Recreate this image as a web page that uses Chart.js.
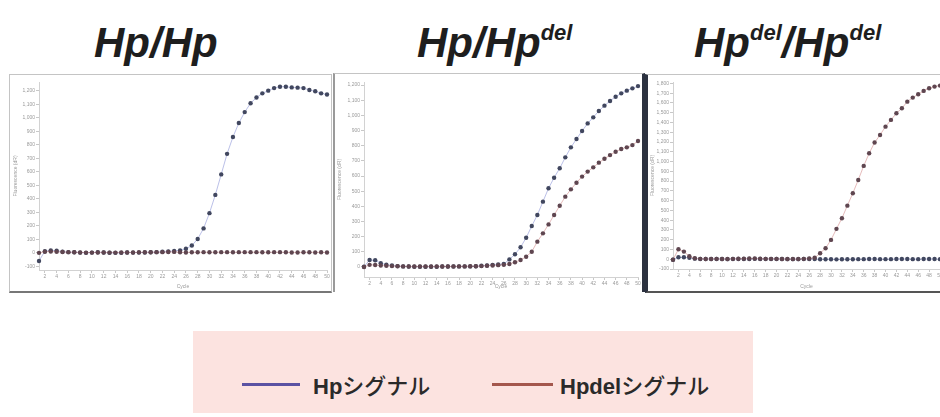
<!DOCTYPE html>
<html>
<head>
<meta charset="utf-8">
<script src="https://cdn.jsdelivr.net/npm/chart.js@4.4.1/dist/chart.umd.min.js"></script>
<style>
  html, body { margin: 0; padding: 0; background: #fff; overflow: hidden; }
  #page { position: relative; width: 940px; height: 417px; overflow: hidden; }
  .title { position: absolute; top: 19px; font-family: 'Liberation Sans', Arial, sans-serif;
    font-weight: bold; font-style: italic; font-size: 42px; color: #1e1e1e; white-space: nowrap; }
  .title sup { font-size: 22px; vertical-align: 0; position: relative; top: -17px; }
  .panel { position: absolute; background: #fff; box-sizing: border-box; }
  .box { position: absolute; }
  #legend { position: absolute; left: 193px; top: 331px; width: 560px; height: 82px; background: #fce3e0; }
  .sw { position: absolute; top: 52px; height: 3px; }
  .lt { position: absolute; top: 37px; font-family: 'Noto Sans CJK JP', sans-serif; font-size: 22px;
    font-weight: 500; color: #2a2a2a; white-space: nowrap; }
  .lt b { font-family: 'Liberation Sans', Arial, sans-serif; font-weight: bold; }
</style>
</head>
<body>
<div id="page">
  <div class="title" style="left:94px">Hp/Hp</div>
  <div class="title" style="left:417px">Hp/Hp<sup>del</sup></div>
  <div class="title" style="left:694px">Hp<sup>del</sup>/Hp<sup>del</sup></div>

  <div class="panel" style="left:9px;top:74px;width:323px;height:219px;border:1px solid #c4c4c4;border-bottom:2px solid #777;"></div>
  <div class="panel" style="left:333px;top:73px;width:312px;height:219px;border-left:2px solid #9a9a9a;border-top:1px solid #c4c4c4;border-right:3px solid #2c3240;"></div>
  <div class="panel" style="left:645px;top:74px;width:300px;height:219px;border-left:3px solid #2c3240;border-top:1px solid #c4c4c4;border-bottom:2px solid #555;"></div>

  <div class="box" style="left:11px;top:76px;width:320px;height:214px"><canvas id="c1"></canvas></div>
  <div class="box" style="left:335px;top:76px;width:307px;height:214px"><canvas id="c2"></canvas></div>
  <div class="box" style="left:648px;top:76px;width:298px;height:214px"><canvas id="c3"></canvas></div>

  <div id="legend">
    <div class="sw" style="left:49px;width:58px;background:#5b52a3"></div>
    <div class="lt" style="left:120px"><b>Hp</b>シグナル</div>
    <div class="sw" style="left:299px;width:61px;background:#a4574d"></div>
    <div class="lt" style="left:367px"><b>Hpdel</b>シグナル</div>
  </div>
</div>

<script>
// cycles 1..50
const cycles = [1,2,3,4,5,6,7,8,9,10,11,12,13,14,15,16,17,18,19,20,21,22,23,24,25,
  26,27,28,29,30,31,32,33,34,35,36,37,38,39,40,41,42,43,44,45,46,47,48,49,50];
const cycleTicks = [2,4,6,8,10,12,14,16,18,20,22,24,26,28,30,32,34,36,38,40,42,44,46,48,50];

// Hp/Hp
const hp1 = [-60,12,18,16,8,5,4,2,0,2,4,3,1,0,0,3,2,2,3,4,5,8,10,14,18,
  30,54,103,181,294,429,581,733,858,961,1042,1108,1150,1181,1201,1220,1230,1230,1225,1223,1220,1206,1196,1181,1172];
const hpdel1 = [0,8,10,8,6,5,4,3,2,2,3,3,2,2,3,3,3,4,4,4,5,5,6,7,4,
  3,4,4,5,4,4,5,5,4,5,5,5,5,4,4,5,5,4,3,3,4,4,3,4,3];
const yTicks1 = [-100,0,100,200,300,400,500,600,700,800,900,1000,1100,1200];

// Hp/Hpdel
const hp2 = [2,46,44,25,15,10,6,4,3,2,2,2,2,2,3,3,3,4,4,4,5,8,10,14,17,
  20,50,84,130,193,270,343,431,519,589,651,723,789,844,897,947,987,1029,1064,1095,1123,1145,1163,1178,1193];
const hpdel2 = [0,14,13,10,8,6,5,4,3,3,3,3,3,3,3,3,4,4,4,5,5,6,8,10,12,
  14,20,31,46,68,101,167,222,281,343,404,464,512,556,596,629,657,688,714,738,760,778,789,804,831];
const yTicks2 = [0,100,200,300,400,500,600,700,800,900,1000,1100,1200];

// Hpdel/Hpdel
const hp3 = [-5,20,20,14,6,3,2,2,2,2,1,2,3,3,3,4,3,2,2,2,2,1,1,1,2,
  3,2,0,0,0,-1,0,0,0,1,1,2,2,1,1,1,2,2,2,1,1,2,2,2,1];
const hpdel3 = [-5,102,78,30,10,4,3,3,4,3,2,4,5,6,7,8,6,4,4,4,3,2,2,2,4,
  8,15,61,113,198,311,420,549,676,812,956,1085,1195,1273,1358,1427,1495,1546,1614,1655,1689,1724,1751,1768,1778];
const yTicks3 = [-100,0,100,200,300,400,500,600,700,800,900,1000,1100,1200,1300,1400,1500,1600,1700,1800];

Chart.defaults.font.family = "'Liberation Sans', Arial, sans-serif";
Chart.defaults.animation = false;

function makeChart(id, hp, hpdel, yTicks, ymin, ymax, yW, xH, padR) {
  const pts = vals => cycles.map((c, i) => ({ x: c, y: vals[i] }));
  const ds = (vals, line, dot) => ({
    data: pts(vals),
    showLine: true,
    borderColor: line,
    borderWidth: 1,
    pointRadius: 2.2,
    pointBackgroundColor: dot,
    pointBorderWidth: 0,
    clip: false
  });
  new Chart(document.getElementById(id), {
    type: 'scatter',
    data: {
      datasets: [
        ds(hpdel, 'rgba(205,120,120,0.5)', '#5f4650'),
        ds(hp, 'rgba(120,130,210,0.5)', '#41475f')
      ]
    },
    options: {
      responsive: true,
      maintainAspectRatio: false,
      layout: { padding: { top: 6, right: padR, left: 0, bottom: 0 } },
      plugins: { legend: { display: false }, tooltip: { enabled: false } },
      scales: {
        x: {
          type: 'linear', min: 1, max: 50,
          afterBuildTicks: s => { s.ticks = cycleTicks.map(v => ({ value: v })); },
          afterFit: s => { s.height = xH; },
          grid: { drawOnChartArea: false, tickLength: 3, color: '#c8c8c8' },
          border: { color: '#d2d2d2' },
          ticks: { font: { size: 5 }, color: '#9a9a9a', padding: 1, autoSkip: false, maxRotation: 0 },
          title: { display: true, text: 'Cycle', font: { size: 5 }, color: '#9a9a9a', padding: 0 }
        },
        y: {
          min: ymin, max: ymax,
          afterBuildTicks: s => { s.ticks = yTicks.map(v => ({ value: v })); },
          afterFit: s => { s.width = yW; },
          grid: { drawOnChartArea: false, tickLength: 3, color: '#c8c8c8' },
          border: { color: '#d2d2d2' },
          ticks: { font: { size: 5 }, color: '#9a9a9a', padding: 1, autoSkip: false },
          title: { display: true, text: 'Fluorescence (dR)', font: { size: 5 }, color: '#9a9a9a', padding: 2 }
        }
      }
    }
  });
}

makeChart('c1', hp1, hpdel1, yTicks1, -127, 1265, 28, 20, 4);
makeChart('c2', hp2, hpdel2, yTicks2, -66, 1220, 29, 13, 0);
makeChart('c3', hp3, hpdel3, yTicks3, -100, 1815, 25, 21, 6);
</script>
</body>
</html>
